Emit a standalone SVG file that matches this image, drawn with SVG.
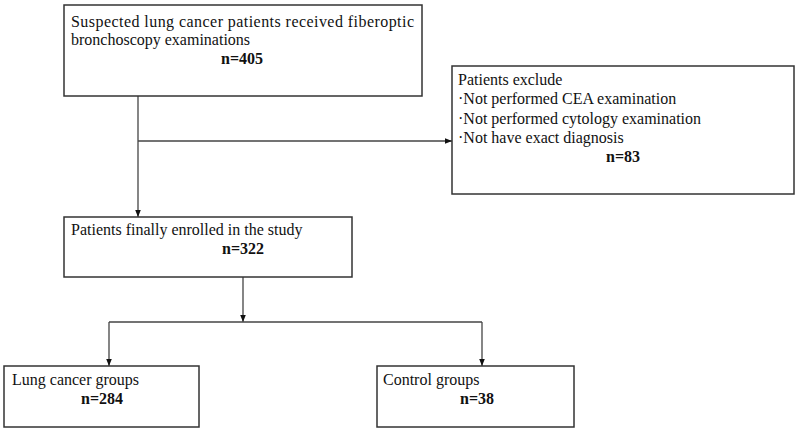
<svg xmlns="http://www.w3.org/2000/svg" width="799" height="431" viewBox="0 0 799 431">
<style>
.box{fill:#fff;stroke:#333;stroke-width:1.5}
.t{font-family:"Liberation Serif","Times New Roman",serif;font-size:16px;fill:#111}
.b{font-weight:bold;text-anchor:middle}
.c{fill:none;stroke:#444;stroke-width:1.3}
</style>
<defs>
<marker id="ah" viewBox="0 0 10 10" refX="10" refY="5" markerWidth="7" markerHeight="7" markerUnits="userSpaceOnUse" orient="auto">
<path d="M0,1 L10,5 L0,9 Z" fill="#111"/>
</marker>
</defs>
<rect width="799" height="431" fill="#fff"/>
<g id="connectors">
<path class="c" d="M138,96 V217" marker-end="url(#ah)"/>
<path class="c" d="M138,141 H452" marker-end="url(#ah)"/>
<path class="c" d="M243,277 V322" marker-end="url(#ah)"/>
<path class="c" d="M109,322 H482"/>
<path class="c" d="M109,322 V366" marker-end="url(#ah)"/>
<path class="c" d="M482,322 V366" marker-end="url(#ah)"/>
</g>
<g id="n1">
<rect class="box" x="64" y="5" width="358" height="91"/>
<text class="t" x="71" y="27" textLength="343" lengthAdjust="spacing">Suspected lung cancer patients received fiberoptic</text>
<text class="t" x="71" y="45">bronchoscopy examinations</text>
<text class="t b" x="242" y="64">n=405</text>
</g>
<g id="n2">
<rect class="box" x="452" y="66" width="342" height="128"/>
<text class="t" x="458" y="85">Patients exclude</text>
<text class="t" x="458" y="104">·Not performed CEA examination</text>
<text class="t" x="458" y="124">·Not performed cytology examination</text>
<text class="t" x="458" y="143">·Not have exact diagnosis</text>
<text class="t b" x="623" y="162">n=83</text>
</g>
<g id="n3">
<rect class="box" x="64" y="217" width="288" height="60"/>
<text class="t" x="71" y="235">Patients finally enrolled in the study</text>
<text class="t b" x="243" y="254">n=322</text>
</g>
<g id="n4">
<rect class="box" x="4" y="366" width="195" height="61"/>
<text class="t" x="12" y="385">Lung cancer groups</text>
<text class="t b" x="102" y="404">n=284</text>
</g>
<g id="n5">
<rect class="box" x="377" y="366" width="197" height="61"/>
<text class="t" x="383" y="385">Control groups</text>
<text class="t b" x="477" y="404">n=38</text>
</g>
</svg>
